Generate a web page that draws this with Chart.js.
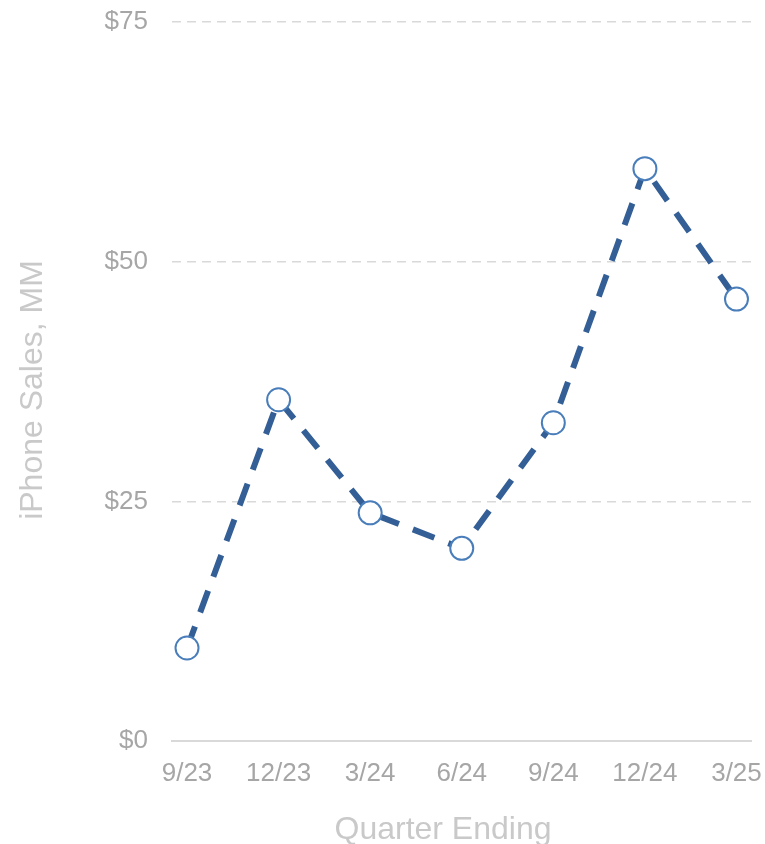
<!DOCTYPE html>
<html>
<head>
<meta charset="utf-8">
<script src="https://cdn.jsdelivr.net/npm/chart.js@4"></script>
<style>
  html, body { margin: 0; padding: 0; background: #fff; }
  #wrap { width: 765px; height: 844px; position: relative; }
</style>
</head>
<body>
<div id="wrap"><canvas id="chart"></canvas></div>
<script>
// ── Données ──────────────────────────────────────────────────────────────
var quarters = ['9/23', '12/23', '3/24', '6/24', '9/24', '12/24', '3/25'];
var sales    = [9.7, 35.6, 23.8, 20.1, 33.2, 59.7, 46.1];
var yTicks   = [0, 25, 50, 75];
var xTitle   = 'Quarter Ending';
var yTitle   = 'iPhone Sales, MM';

var points = sales.map(function (v, i) { return { x: i, y: v }; });

// ── Titres des axes (dessinés à la main pour les placer comme l'original) ──
var axisTitles = {
    id: 'axisTitles',
    afterDraw: function (chart) {
        var c = chart.ctx;
        var area = chart.chartArea;
        c.save();
        c.fillStyle = '#c9c9c9';
        c.font = '32px "Liberation Sans"';
        c.textAlign = 'center';
        c.textBaseline = 'middle';
        c.fillText(xTitle, area.left + 271, area.bottom + 89);
        c.translate(33, area.top + 368);
        c.rotate(-Math.PI / 2);
        c.fillText(yTitle, 0, 0);
        c.restore();
    }
};

var ctx = document.getElementById('chart').getContext('2d');
new Chart(ctx, {
    type: 'line',
    data: {
        datasets: [{
            data: points,
            borderColor: '#335f96',
            borderWidth: 6,
            borderDash: [23, 15],
            pointRadius: 11.5,
            pointHoverRadius: 11.5,
            pointBorderWidth: 2,
            pointBorderColor: '#4a7ebb',
            pointBackgroundColor: '#ffffff',
            tension: 0,
            fill: false
        }]
    },
    plugins: [axisTitles],
    options: {
        responsive: true,
        maintainAspectRatio: false,
        animation: false,
        layout: { padding: { top: 22, right: 13, bottom: 0, left: 0 } },
        plugins: { legend: { display: false }, tooltip: { enabled: false } },
        scales: {
            x: {
                type: 'linear',
                min: -0.164,
                max: 6.164,
                afterBuildTicks: function (scale) {
                    scale.ticks = quarters.map(function (q, i) { return { value: i }; });
                },
                afterFit: function (scale) {
                    scale.height = 103;
                    scale.paddingLeft = 0;
                    scale.paddingRight = 0;
                },
                grid: { display: false, drawTicks: false },
                border: { display: true, color: '#d9d9d9', width: 2 },
                ticks: {
                    autoSkip: false,
                    maxRotation: 0,
                    padding: 17,
                    color: '#a6a6a6',
                    font: { family: 'Liberation Sans', size: 26 },
                    callback: function (v) { return quarters[v]; }
                }
            },
            y: {
                min: 0,
                max: 75,
                afterBuildTicks: function (scale) {
                    scale.ticks = yTicks.map(function (v) { return { value: v }; });
                },
                afterFit: function (scale) {
                    scale.width = 172;
                    scale.paddingTop = 0;
                    scale.paddingBottom = 0;
                },
                grid: {
                    color: '#d9d9d9',
                    lineWidth: 1.5,
                    drawTicks: false
                },
                border: { display: false, dash: [9, 6] },
                ticks: {
                    padding: 24,
                    color: '#a6a6a6',
                    font: { family: 'Liberation Sans', size: 26 },
                    callback: function (v) { return '$' + v; }
                }
            }
        }
    }
});
</script>
</body>
</html>
